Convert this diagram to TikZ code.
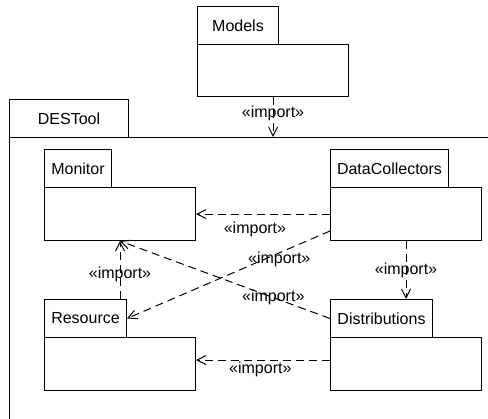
\documentclass[tikz,border=0pt]{standalone}
\usepackage{fontspec}
\setmainfont{Liberation Sans}
\usetikzlibrary{arrows.meta}
\begin{document}
\begin{tikzpicture}[x=1bp,y=-1bp,line width=1bp,
  lbl/.style={font=\fontsize{16bp}{18bp}\selectfont},
  tabbox/.style={draw,rectangle,inner sep=0pt,anchor=north west,minimum height=38bp,lbl},
  bodybox/.style={draw,rectangle,inner sep=0pt,anchor=north west,minimum width=151bp,minimum height=53bp},
  imp/.style={dash pattern=on 8bp off 5bp,-{Straight Barb[length=9bp,width=9bp]}},
  implbl/.style={lbl,inner sep=0pt}]
\clip (0,0) rectangle (488,418);
% Models
\node[tabbox,minimum width=81bp] (modT) at (197,6) {Models};
\node[bodybox,minimum height=52bp] (mod) at (197,44) {};
% DESTool
\node[tabbox,minimum width=119bp] (desT) at (9,99) {DESTool};
\node[bodybox,minimum width=520bp,minimum height=320bp] (des) at (9,137) {};
% inner packages
\node[tabbox,minimum width=67bp] (monT) at (44,149) {Monitor};
\node[bodybox] (mon) at (44,187) {};
\node[tabbox,minimum width=118bp] (dcT) at (330,149) {DataCollectors};
\node[bodybox] (dc) at (330,187) {};
\node[tabbox,minimum width=82bp] (resT) at (44,299) {Resource};
\node[bodybox] (res) at (44,337) {};
\node[tabbox,minimum width=102bp] (distT) at (330,299) {Distributions};
\node[bodybox] (dist) at (330,337) {};
% imports
\draw[imp] (mod.south) -- node[implbl,pos=0.41] {«import»} (mod.south |- des.north);
\draw[imp] (dc.west) -- node[implbl,pos=0.56,yshift=-15bp] {«import»} (mon.east);
\draw[imp] ([yshift=10bp]dc.south west) -- node[implbl,pos=0.25,yshift=-6bp] {«import»} (resT.east);
\draw[imp] (dc.south) -- node[implbl,pos=0.5] {«import»} (dc.south |- distT.north);
\draw[imp] (distT.west) -- node[implbl,pos=0.27] {«import»} (mon.south);
\draw[imp] (res.north |- resT.north) -- node[implbl,pos=0.42] {«import»} (mon.south);
\draw[imp] ([yshift=4bp]dist.west) -- node[implbl,pos=0.52,yshift=-9bp] {«import»} ([yshift=4bp]res.east);
\end{tikzpicture}
\end{document}
